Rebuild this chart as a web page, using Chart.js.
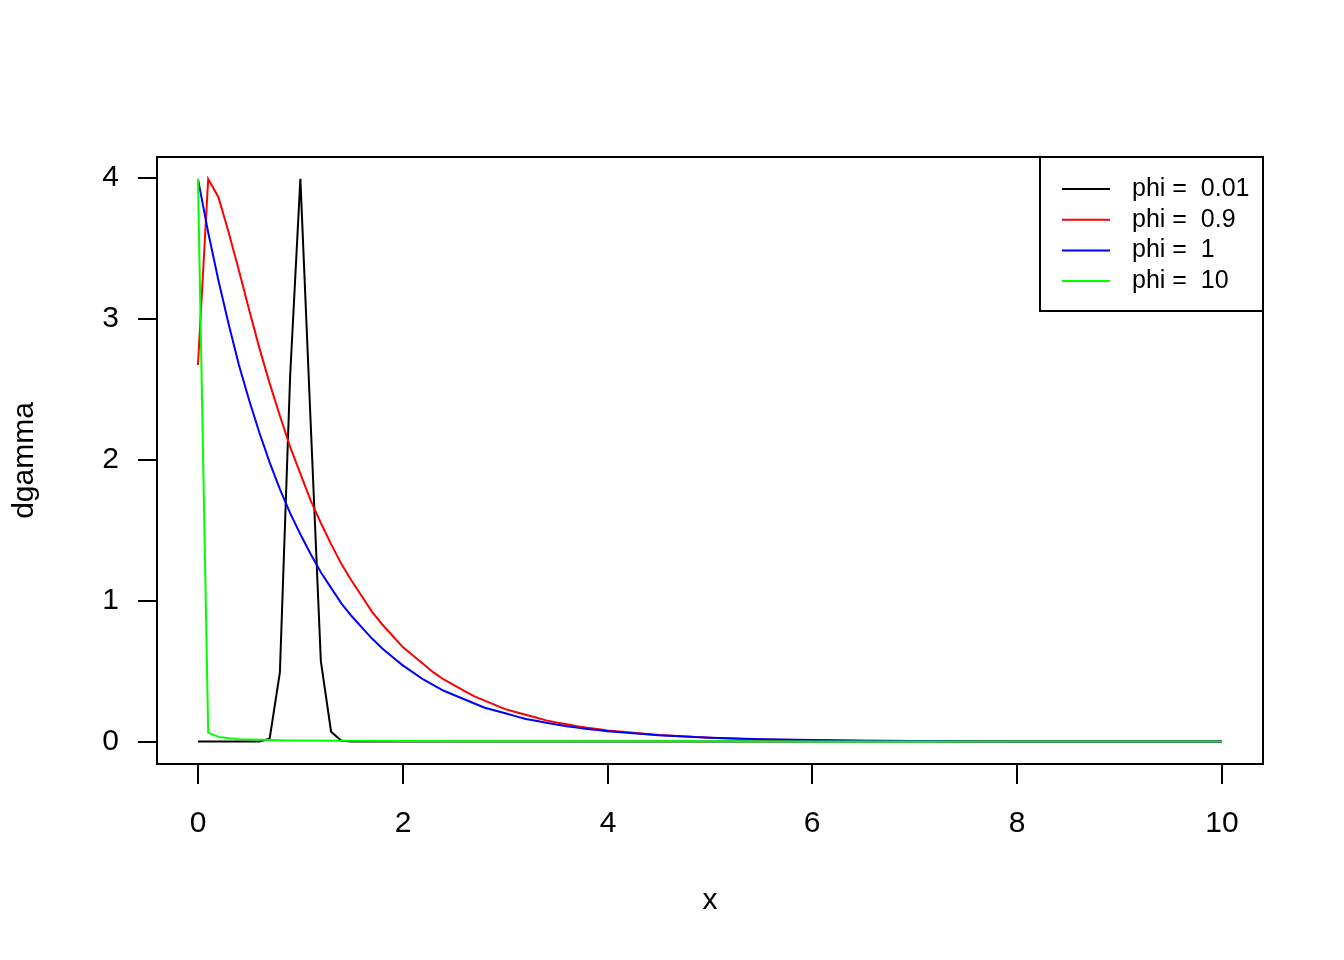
<!DOCTYPE html>
<html>
<head>
<meta charset="utf-8">
<script src="https://cdn.jsdelivr.net/npm/chart.js@4.4.1/dist/chart.umd.min.js"></script>
<style>
  html, body { margin: 0; padding: 0; background: #fff; }
  #wrap { width: 1344px; height: 960px; }
</style>
</head>
<body>
<div id="wrap"><canvas id="myChart" width="1344" height="960"></canvas></div>
<script>
// values
const xBlack = [0, 0.6, 0.7, 0.8, 0.9, 1.0, 1.1, 1.2, 1.3, 1.4, 1.5, 10];
const yBlack = [0, 0.0001, 0.02, 0.49, 2.59, 3.99, 2.27, 0.57, 0.07, 0.005, 0, 0];

const xSmooth = [0, 0.1, 0.2, 0.3, 0.4, 0.5, 0.6, 0.7, 0.8, 0.9,
                 1.0, 1.1, 1.2, 1.3, 1.4, 1.5, 1.6, 1.7, 1.8, 1.9,
                 2.0, 2.1, 2.2, 2.3, 2.4, 2.5, 2.6, 2.7, 2.8, 2.9,
                 3.0, 3.1, 3.2, 3.3, 3.4, 3.5, 3.6, 3.7, 3.8, 3.9,
                 4.0, 4.5, 5.0, 5.5, 6.0, 6.5, 7.0, 7.5, 8.0, 9.0, 10.0];
const yRed = [2.67, 3.99, 3.86, 3.61, 3.34, 3.06, 2.79, 2.54, 2.31, 2.09,
              1.90, 1.71, 1.55, 1.40, 1.26, 1.14, 1.03, 0.92, 0.83, 0.75,
              0.67, 0.61, 0.55, 0.49, 0.44, 0.40, 0.36, 0.32, 0.29, 0.26,
              0.23, 0.21, 0.19, 0.17, 0.15, 0.135, 0.122, 0.109, 0.098, 0.088,
              0.079, 0.046, 0.027, 0.015, 0.009, 0.005, 0.003, 0.002, 0.001, 0, 0];
const yBlue = [3.99, 3.61, 3.27, 2.96, 2.67, 2.42, 2.19, 1.98, 1.79, 1.62,
               1.47, 1.33, 1.20, 1.09, 0.98, 0.89, 0.81, 0.73, 0.66, 0.60,
               0.54, 0.49, 0.44, 0.40, 0.36, 0.33, 0.30, 0.27, 0.24, 0.22,
               0.20, 0.18, 0.16, 0.147, 0.133, 0.12, 0.109, 0.099, 0.089, 0.081,
               0.073, 0.044, 0.027, 0.016, 0.010, 0.006, 0.004, 0.002, 0.001, 0.0005, 0];

const xGreen = [0, 0.1, 0.2, 0.3, 0.4, 0.5, 0.6, 0.7, 0.8, 0.9, 1.0, 1.5, 2, 3, 4, 5, 6, 8, 10];
const yGreen = [3.99, 0.063, 0.033, 0.023, 0.017, 0.014, 0.012, 0.010, 0.009, 0.008, 0.007,
                0.005, 0.0035, 0.0022, 0.0015, 0.0011, 0.0008, 0.0005, 0.0003];

const legendLabels = ['phi =  0.01', 'phi =  0.9', 'phi =  1', 'phi =  10'];
const xTicks = [0, 2, 4, 6, 8, 10];
const yTicks = [0, 1, 2, 3, 4];

const pts = (xs, ys) => xs.map((v, i) => ({x: v, y: ys[i]}));
const FONT = '"Liberation Sans", Arial, Helvetica, sans-serif';

const rAxes = {
    id: 'rAxes',
    afterDraw(chart) {
        const ctx = chart.ctx;
        const a = chart.chartArea;
        const sx = chart.scales.x, sy = chart.scales.y;
        ctx.save();
        ctx.strokeStyle = '#000';
        ctx.fillStyle = '#000';
        ctx.lineWidth = 2;
        // plot box
        ctx.strokeRect(a.left, a.top, a.right - a.left, a.bottom - a.top);

        ctx.font = '30px ' + FONT;
        ctx.textBaseline = 'middle';
        // x axis
        ctx.textAlign = 'center';
        xTicks.forEach(v => {
            const px = Math.round(sx.getPixelForValue(v));
            ctx.beginPath(); ctx.moveTo(px, a.bottom); ctx.lineTo(px, a.bottom + 20); ctx.stroke();
            ctx.fillText(String(v), px, a.bottom + 60);
        });
        // y axis
        ctx.textAlign = 'right';
        yTicks.forEach(v => {
            const py = Math.round(sy.getPixelForValue(v));
            ctx.beginPath(); ctx.moveTo(a.left, py); ctx.lineTo(a.left - 19, py); ctx.stroke();
            ctx.fillText(String(v), a.left - 38, py);
        });
        // axis titles
        ctx.textAlign = 'center';
        ctx.fillText('x', (a.left + a.right) / 2, 901);
        ctx.save();
        ctx.translate(25, (a.top + a.bottom) / 2);
        ctx.rotate(-Math.PI / 2);
        ctx.fillText('dgamma', 0, 0);
        ctx.restore();

        // legend, top right
        const lx = 1040, ly = a.top, lw = a.right - 1040, lh = 154;
        ctx.fillStyle = '#fff';
        ctx.fillRect(lx, ly, lw, lh);
        ctx.strokeRect(lx, ly, lw, lh);
        ctx.font = '25px ' + FONT;
        ctx.textAlign = 'left';
        chart.data.datasets.forEach((ds, i) => {
            const ry = 189 + i * 30.7;
            ctx.strokeStyle = ds.borderColor;
            ctx.beginPath(); ctx.moveTo(1062, ry); ctx.lineTo(1110, ry); ctx.stroke();
            ctx.fillStyle = '#000';
            ctx.fillText(ds.label, 1132, ry);
        });
        ctx.restore();
    }
};

const ctx = document.getElementById('myChart').getContext('2d');
const myChart = new Chart(ctx, {
    type: 'line',
    data: {
        datasets: [
            {label: legendLabels[0], data: pts(xBlack, yBlack), borderColor: '#000000', order: 4},
            {label: legendLabels[1], data: pts(xSmooth, yRed), borderColor: '#FF0000', order: 3},
            {label: legendLabels[2], data: pts(xSmooth, yBlue), borderColor: '#0000FF', order: 2},
            {label: legendLabels[3], data: pts(xGreen, yGreen), borderColor: '#00FF00', order: 1}
        ]
    },
    options: {
        responsive: false,
        animation: false,
        layout: {padding: {left: 157, top: 157, right: 81, bottom: 196}},
        elements: {
            line: {borderWidth: 2, tension: 0, fill: false},
            point: {radius: 0, hoverRadius: 0}
        },
        scales: {
            x: {type: 'linear', min: -0.4, max: 10.4, display: false},
            y: {type: 'linear', min: -0.1594, max: 4.1454, display: false}
        },
        plugins: {
            legend: {display: false},
            tooltip: {enabled: false}
        }
    },
    plugins: [rAxes]
});
</script>
</body>
</html>
